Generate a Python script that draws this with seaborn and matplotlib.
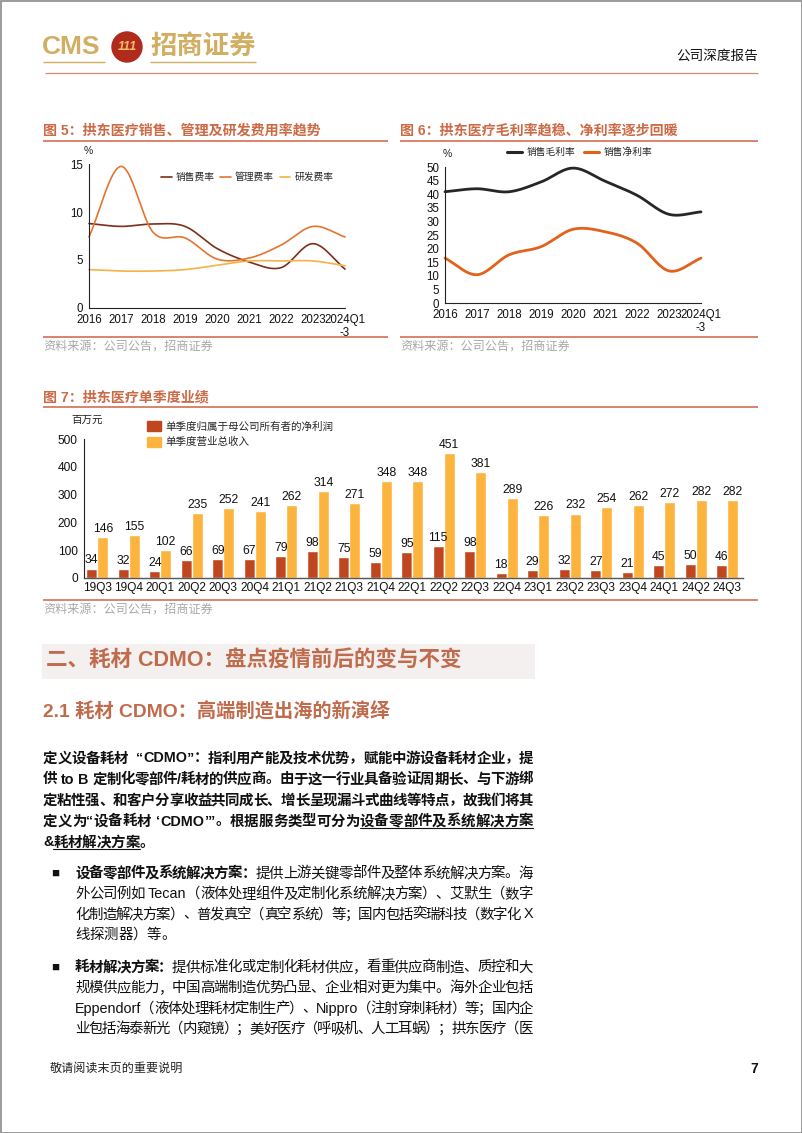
import numpy as np
import pandas as pd
import seaborn as sns
import matplotlib.pyplot as plt
from matplotlib.patches import Rectangle, Circle, Patch
from matplotlib.lines import Line2D

# ---- data ----
years = ['2016', '2017', '2018', '2019', '2020', '2021', '2022', '2023', '2024Q1\n-3']
sales_rate = [8.8, 8.5, 8.75, 8.5, 6.2, 4.8, 4.2, 6.7, 4.05]
admin_rate = [7.4, 14.75, 7.9, 7.3, 5.1, 5.2, 6.55, 8.5, 7.4]
rd_rate = [4.0, 3.85, 3.85, 4.0, 4.45, 4.9, 4.9, 4.9, 4.4]

gross_margin = [40.9, 42.0, 40.9, 44.5, 49.6, 44.8, 39.6, 32.6, 33.5]
net_margin = [16.5, 10.4, 17.7, 20.7, 27.1, 26.2, 22.0, 11.8, 16.5]

quarters = ['19Q3', '19Q4', '20Q1', '20Q2', '20Q3', '20Q4', '21Q1', '21Q2', '21Q3', '21Q4',
            '22Q1', '22Q2', '22Q3', '22Q4', '23Q1', '23Q2', '23Q3', '23Q4', '24Q1', '24Q2', '24Q3']
net_profit = [34, 32, 24, 66, 69, 67, 79, 98, 75, 59, 95, 115, 98, 18, 29, 32, 27, 21, 45, 50, 46]
revenue = [146, 155, 102, 235, 252, 241, 262, 314, 271, 348, 348, 451, 381, 289, 226, 232, 254, 262, 272, 282, 282]

W, H = 802, 1133
TITLE_C = '#CC6A45'
LINE_C = '#D97A63'
HEAD_C = '#C06C4C'
GOLD = '#D2AE62'

sns.set_style('white')
plt.rcParams['font.family'] = ['Liberation Sans', 'Noto Sans CJK SC']
plt.rcParams['axes.unicode_minus'] = False

fig = plt.figure(figsize=(W / 100, H / 100), dpi=100)
page = fig.add_axes([0, 0, 1, 1], zorder=0)
page.set_xlim(0, W)
page.set_ylim(H, 0)
page.axis('off')
renderer = fig.canvas.get_renderer()


def ax_px(x0, y0, x1, y1):
    a = fig.add_axes([x0 / W, 1 - y1 / H, (x1 - x0) / W, (y1 - y0) / H], zorder=2)
    a.set_facecolor('none')
    return a


def smooth(y, n=24):
    # excel style smoothed line through the points
    y = np.asarray(y, float)
    m = np.gradient(y)
    xs, ys = [], []
    t = np.linspace(0, 1, n, endpoint=False)
    h00 = 2 * t**3 - 3 * t**2 + 1
    h10 = t**3 - 2 * t**2 + t
    h01 = -2 * t**3 + 3 * t**2
    h11 = t**3 - t**2
    for i in range(len(y) - 1):
        xs.append(i + t)
        ys.append(h00 * y[i] + h10 * m[i] + h01 * y[i + 1] + h11 * m[i + 1])
    xs.append([len(y) - 1])
    ys.append([y[-1]])
    return np.concatenate(xs), np.concatenate(ys)


def hline(x0, x1, y, c=LINE_C, lw=1.3):
    page.plot([x0, x1], [y, y], color=c, lw=lw, solid_capstyle='butt')


def tokens(s):
    out, buf = [], ''
    for ch in s:
        if ch.isascii() and ch != ' ':
            buf += ch
        else:
            if buf:
                out.append(buf)
                buf = ''
            out.append(ch)
    if buf:
        out.append(buf)
    return out


def text_line(x, y, runs, size, width=None, color='#111111'):
    # runs: (text, bold, underline); justified to width when given
    items = []
    for txt, bold, ul in runs:
        for tk in tokens(txt):
            if tk == ' ':
                items.append([None, size * 100 / 72 * 0.3, ul])
                continue
            t = page.text(0, y, tk, fontsize=size, color=color, va='center_baseline',
                          ha='left', fontweight='bold' if bold else 'normal')
            w = t.get_window_extent(renderer).width
            items.append([t, w, ul])
    total = sum(it[1] for it in items)
    extra = 0 if width is None else (width - total) / max(len(items) - 1, 1)
    cx = x
    for t, w, ul in items:
        if t is not None:
            t.set_x(cx)
        if ul:
            page.plot([cx, cx + w + extra], [y + 8, y + 8], color=color, lw=0.8)
        cx += w + extra


# ---- page frame / header / footer ----
page.add_patch(Rectangle((0.5, 0.5), W - 1, H - 1, fill=False, ec='#8a8a8a', lw=1.2))
page.text(42, 47, 'CMS', fontsize=19, color=GOLD, fontweight='bold', va='center', ha='left')
page.add_patch(Circle((127, 47), 15, color='#B02A1E'))
page.text(127, 47, '111', fontsize=9, color='#F0C060', fontweight='bold', fontstyle='italic',
          va='center', ha='center')
page.text(150, 46, '招商证券', fontsize=19, color=GOLD, fontweight='bold', va='center', ha='left')
hline(43, 105, 62, c=GOLD, lw=1.0)
hline(150, 256, 62, c=GOLD, lw=1.0)
hline(45, 758, 73, c='#D88A7A', lw=0.9)
page.text(758, 56, '公司深度报告', fontsize=9.8, color='#111111', va='center', ha='right')
page.text(50, 1069, '敬请阅读末页的重要说明', fontsize=8.7, color='#222222', va='center', ha='left')
page.text(758, 1069, '7', fontsize=10, color='#111111', fontweight='bold', va='center', ha='right')

# ---- figure titles ----
for x0, x1, y, txt in [(43, 388, 131, '图 5：拱东医疗销售、管理及研发费用率趋势'),
                       (400, 758, 131, '图 6：拱东医疗毛利率趋稳、净利率逐步回暖'),
                       (43, 758, 397, '图 7：拱东医疗单季度业绩')]:
    page.text(x0, y, txt, fontsize=10.1, color=TITLE_C, fontweight='bold', va='center', ha='left')
    hline(x0, x1, y + 10)
for x0, x1, y in [(43, 388, 337), (400, 758, 337), (43, 758, 600)]:
    hline(x0, x1, y)
    page.text(x0, y + 9.5, '资料来源：公司公告，招商证券', fontsize=8.7, color='#A8A8A8',
              va='center', ha='left')

# ---- chart 5 ----
ax5 = ax_px(89, 164, 345, 308)
for vals, c in [(sales_rate, '#7E2E1B'), (admin_rate, '#E5742E'), (rd_rate, '#F4B247')]:
    xs, ys = smooth(vals)
    sns.lineplot(x=xs, y=ys, ax=ax5, color=c, lw=1.2, sort=False, clip_on=False)
ax5.set_xlim(0, 8)
ax5.set_ylim(0, 15)
ax5.set_yticks([0, 5, 10, 15])
ax5.set_xticks(range(9))
ax5.set_xticklabels(years, multialignment='center')
page.text(88, 151, '%', fontsize=7.5, color='#222222', va='center', ha='center')
fig.legend(handles=[Line2D([], [], color=c, lw=1.2) for c in ['#7E2E1B', '#E5742E', '#F4B247']],
           labels=['销售费率', '管理费率', '研发费率'], loc='center left',
           bbox_to_anchor=(156 / W, 1 - 177 / H), ncol=3, fontsize=7, frameon=False,
           handlelength=1.1, handletextpad=0.4, columnspacing=0.6, borderpad=0)

# ---- chart 6 ----
ax6 = ax_px(445, 167, 701, 303)
for vals, c in [(gross_margin, '#262626'), (net_margin, '#E2621B')]:
    xs, ys = smooth(vals)
    sns.lineplot(x=xs, y=ys, ax=ax6, color=c, lw=2.0, sort=False, clip_on=False)
ax6.set_xlim(0, 8)
ax6.set_ylim(0, 50)
ax6.set_yticks(range(0, 51, 5))
ax6.set_xticks(range(9))
ax6.set_xticklabels(years, multialignment='center')
page.text(447, 154, '%', fontsize=7.5, color='#222222', va='center', ha='center')
fig.legend(handles=[Line2D([], [], color=c, lw=2.2) for c in ['#262626', '#E2621B']],
           labels=['销售毛利率', '销售净利率'], loc='center left',
           bbox_to_anchor=(502 / W, 1 - 152 / H), ncol=2, fontsize=7, frameon=False,
           handlelength=1.6, handletextpad=0.4, columnspacing=0.9, borderpad=0)

for a in (ax5, ax6):
    sns.despine(ax=a)
    for s in ('left', 'bottom'):
        a.spines[s].set_color('#222222')
        a.spines[s].set_linewidth(0.8)
    a.tick_params(axis='both', labelsize=8.3, colors='#111111', length=2.5, width=0.6, pad=1.5)
    a.tick_params(axis='x', length=0, pad=4)
    a.grid(False)

# ---- chart 7 ----
ax7 = ax_px(84, 439, 743, 578)
lab_net = '单季度归属于母公司所有者的净利润'
lab_rev = '单季度营业总收入'
df7 = pd.DataFrame({'季度': quarters * 2,
                    '值': net_profit + revenue,
                    '类别': [lab_net] * len(quarters) + [lab_rev] * len(quarters)})
sns.barplot(data=df7, x='季度', y='值', hue='类别', palette=['#C0461F', '#FDB43E'],
            width=0.7, saturation=1, errorbar=None, legend=False, ax=ax7)
for cont in ax7.containers:
    ax7.bar_label(cont, fmt='%.0f', fontsize=8.7, padding=1.5, color='#111111')
ax7.set_xlim(-0.42, 20.5)
ax7.set_ylim(0, 500)
ax7.set_yticks(range(0, 501, 100))
ax7.set_xlabel('')
ax7.set_ylabel('')
sns.despine(ax=ax7)
ax7.spines['left'].set_color('#222222')
ax7.spines['left'].set_linewidth(0.8)
ax7.spines['bottom'].set_color('#555555')
ax7.spines['bottom'].set_linewidth(1.0)
ax7.tick_params(axis='both', labelsize=8.6, colors='#111111', length=2.5, width=0.6, pad=2)
ax7.tick_params(axis='x', length=0, pad=3)
page.text(87, 420, '百万元', fontsize=7.6, color='#222222', va='center', ha='center')
fig.legend(handles=[Patch(color='#C0461F'), Patch(color='#FDB43E')], labels=[lab_net, lab_rev],
           loc='upper left', bbox_to_anchor=(142 / W, 1 - 416 / H), fontsize=7.6, frameon=False,
           handlelength=1.3, handleheight=1.1, handletextpad=0.4, labelspacing=0.45, borderpad=0)

# ---- section headings ----
page.add_patch(Rectangle((42, 644), 493, 35, color='#F3F0EF', lw=0))
page.text(46, 661, '二、耗材 CDMO：盘点疫情前后的变与不变', fontsize=15.5, color=HEAD_C,
          fontweight='bold', va='center', ha='left')
page.text(43, 712, '2.1 耗材 CDMO：高端制造出海的新演绎', fontsize=13.9, color=HEAD_C,
          fontweight='bold', va='center', ha='left')

# ---- body text ----
PS = 10.4
para = [
    [('定义设备耗材  “CDMO”：指利用产能及技术优势，赋能中游设备耗材企业，提', True, False)],
    [('供 to B 定制化零部件/耗材的供应商。由于这一行业具备验证周期长、与下游绑', True, False)],
    [('定粘性强、和客户分享收益共同成长、增长呈现漏斗式曲线等特点，故我们将其', True, False)],
    [('定义为“设备耗材 ‘CDMO’”。根据服务类型可分为', True, False),
     ('设备零部件及系统解决方案', True, True)],
]
y = 757
for runs in para:
    text_line(43, y, runs, PS, width=490)
    y += 21
text_line(43, y, [('&', True, False), ('耗材解决方案', True, True), ('。', True, False)], PS)

bullets = [
    (872, [[('设备零部件及系统解决方案：', True, False), ('提供上游关键零部件及整体系统解决方案。海', False, False)],
           [('外公司例如 Tecan（液体处理组件及定制化系统解决方案）、艾默生（数字', False, False)],
           [('化制造解决方案）、普发真空（真空系统）等；国内包括奕瑞科技（数字化 X', False, False)],
           [('线探测器）等。', False, False)]]),
    (966, [[('耗材解决方案：', True, False), ('提供标准化或定制化耗材供应，看重供应商制造、质控和大', False, False)],
           [('规模供应能力，中国高端制造优势凸显、企业相对更为集中。海外企业包括', False, False)],
           [('Eppendorf（液体处理耗材定制生产）、Nippro（注射穿刺耗材）等；国内企', False, False)],
           [('业包括海泰新光（内窥镜）；美好医疗（呼吸机、人工耳蜗）；拱东医疗（医', False, False)]]),
]
for y0, lines in bullets:
    page.text(55, y0, '■', fontsize=9.5, color='#111111', va='center_baseline', ha='center')
    for i, runs in enumerate(lines):
        last = (i == len(lines) - 1) and y0 == 872
        text_line(75, y0 + 20.5 * i, runs, PS, width=None if last else 458)

fig.savefig('out.png', dpi=100)
